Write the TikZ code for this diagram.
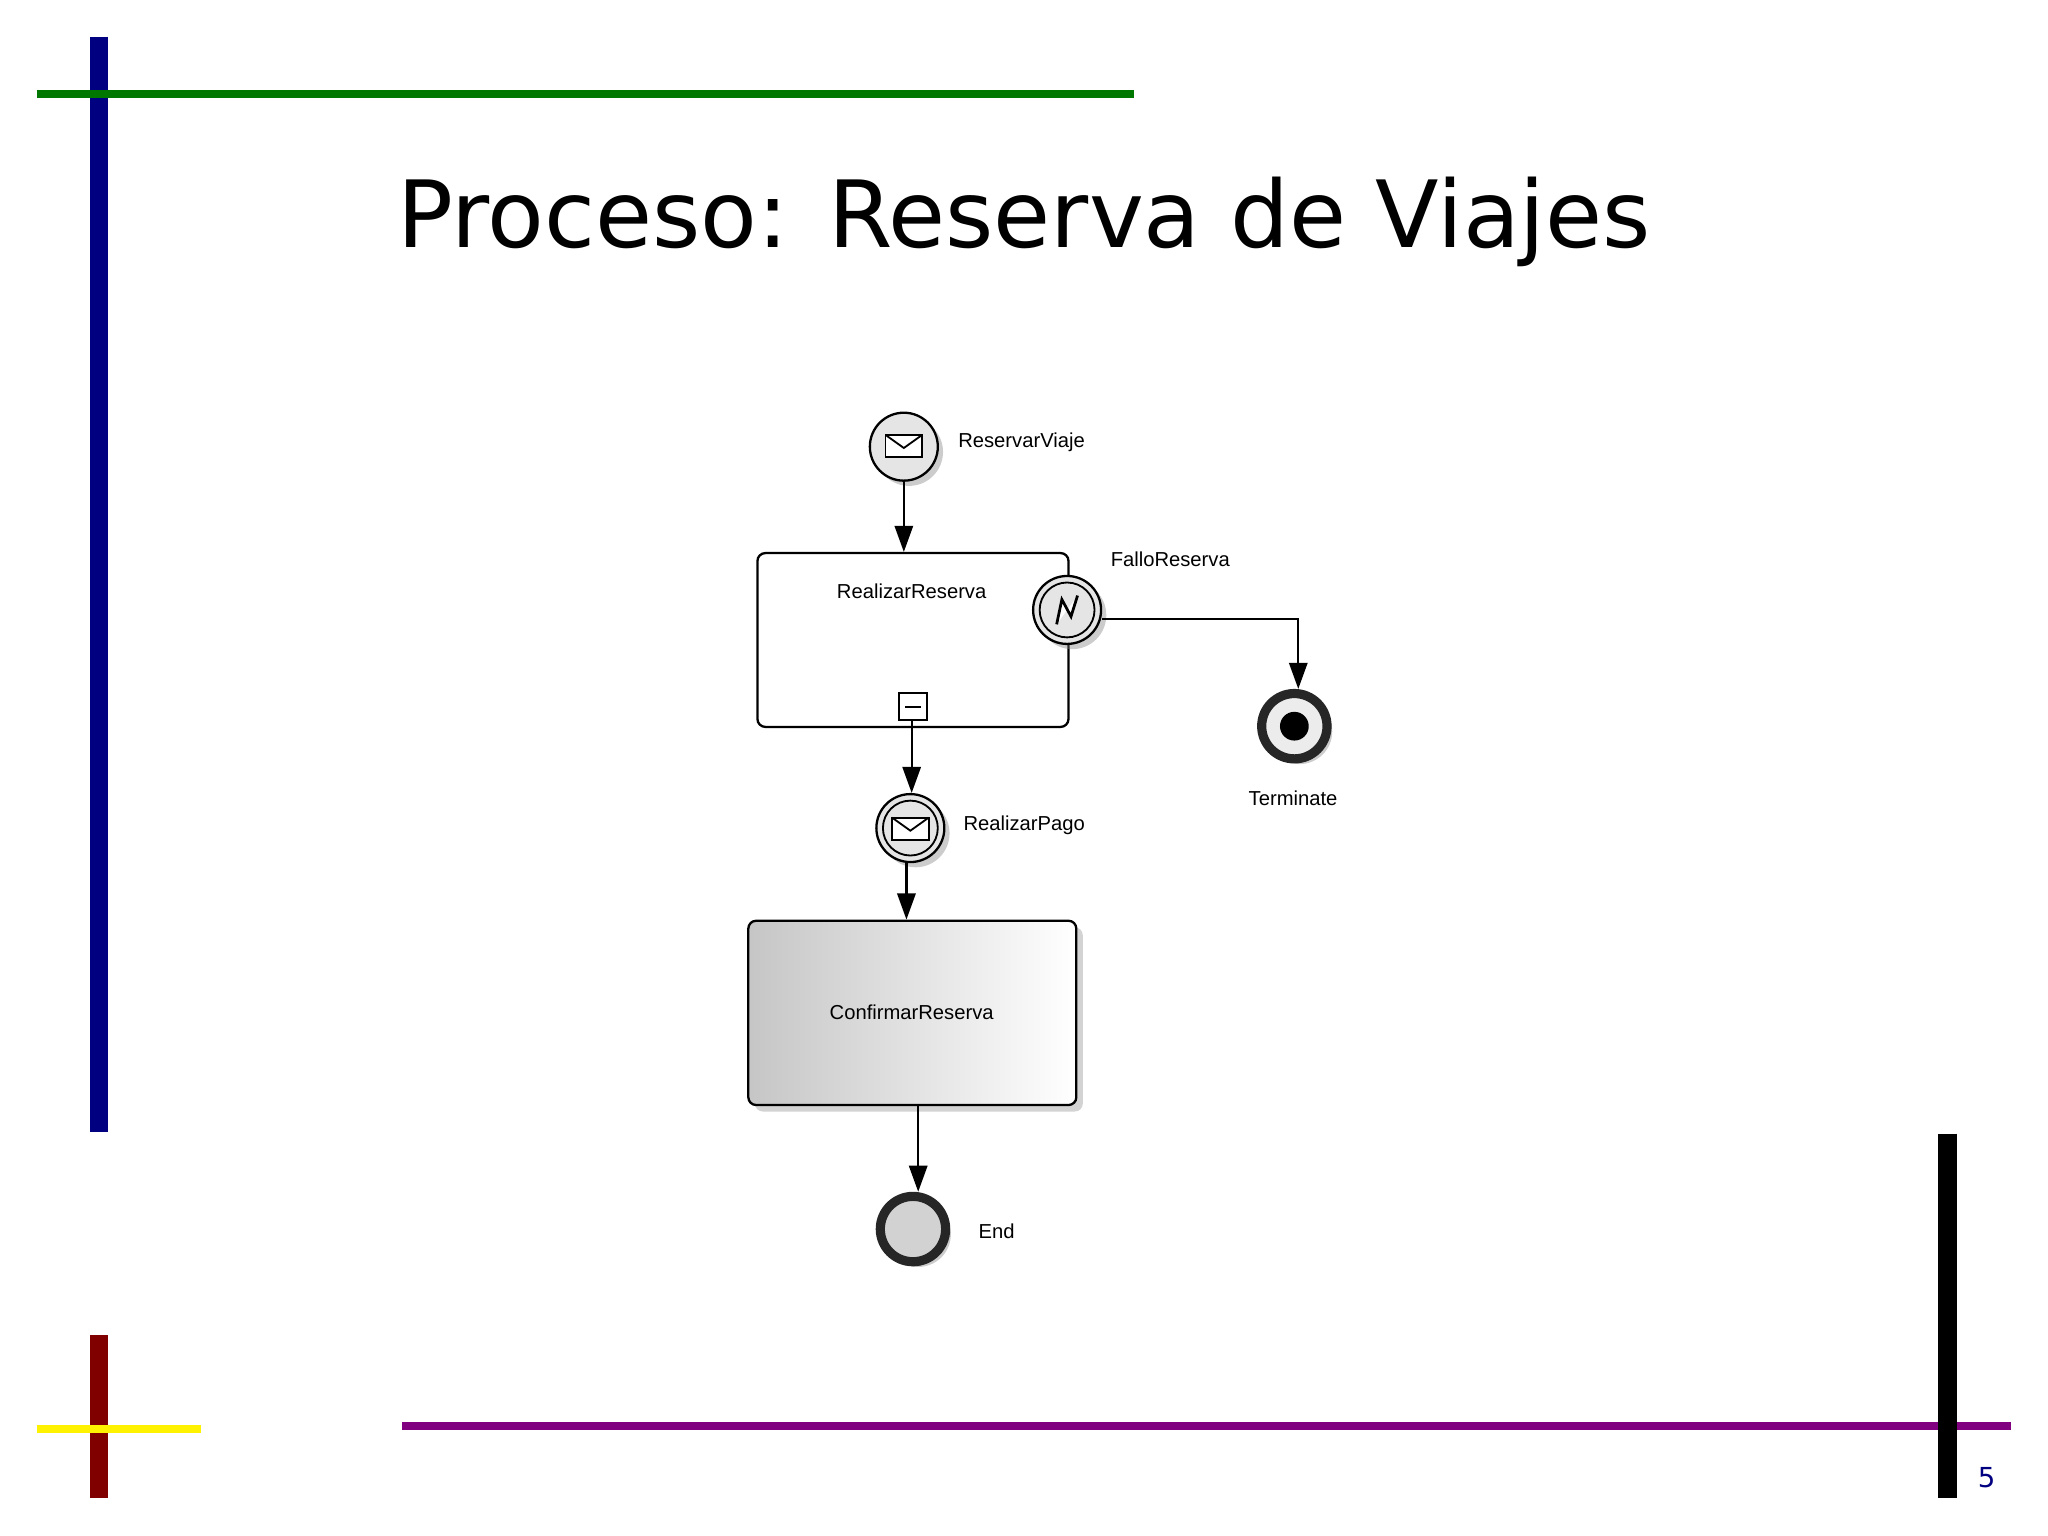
\documentclass[tikz,border=0pt]{standalone}
\usepackage{fontspec}
\setmainfont{DejaVu Sans}
\newfontfamily\lab{Liberation Sans}
\usetikzlibrary{shadows,arrows.meta}
\begin{document}
\begin{tikzpicture}[x=0.01cm,y=-0.01cm,
  ev/.style={circle,draw=black,line width=0.5pt,minimum size=0.52cm,inner sep=0pt,fill=gray!20,drop shadow={shadow xshift=0.04cm,shadow yshift=-0.04cm,opacity=0.4}},
  lbl/.style={font=\lab\fontsize{4.4}{5}\selectfont,inner sep=0pt},
  arr/.style={line width=0.5pt,-{Triangle[length=0.2cm,width=0.14cm]}},
  bar/.style={line width=#1}]
\useasboundingbox (0,0) rectangle (1568,1176);
% decorative bars
\draw[bar=0.14cm,color={rgb,255:red,0;green,0;blue,128}] (76,28) -- (76,867);
\draw[bar=0.06cm,color={rgb,255:red,0;green,120;blue,0}] (28,72) -- (868,72);
\draw[bar=0.14cm,color={rgb,255:red,128;green,0;blue,0}] (76,1022) -- (76,1147);
\draw[bar=0.06cm,color=yellow] (28,1094) -- (154,1094);
\draw[bar=0.06cm,color={rgb,255:red,128;green,0;blue,128}] (308,1092) -- (1540,1092);
\draw[bar=0.14cm,black] (1491,868) -- (1491,1147);
\node[font=\fontsize{6}{7}\selectfont,color={rgb,255:red,0;green,0;blue,128}] (pg) at (1521,1131) {5};
\node[font=\fontsize{20.2}{24}\selectfont] (title) at (784,170) {Proceso: Reserva de Viajes};
% start
\node[ev] (start) at (692,342) {};
\draw[line width=0.4pt,fill=white] (678,333) rectangle (706,350);
\draw[line width=0.4pt] (678,333) -- (692,343) -- (706,333);
\node[lbl,anchor=west] (l1) at (733,339) {ReservarViaje};
% subprocess
\node[draw,rounded corners=0.06cm,line width=0.5pt,fill=white,minimum width=2.38cm,minimum height=1.33cm] (sub) at (699,490) {};
\node[lbl] (l2) at (698,453) {RealizarReserva};
\node[draw,line width=0.4pt,minimum size=0.21cm,inner sep=0pt] (col) at (699,541) {};
\draw[line width=0.4pt] (693,541) -- (705,541);
% error boundary
\node[ev] (err) at (817,467) {};
\draw[line width=0.4pt] (817,467) circle (0.21cm);
\draw[line width=0.6pt,fill=white] (809,478) -- (813,459) -- (820,472) -- (825,456);
\node[lbl] (l3) at (896,428) {FalloReserva};
% terminate
\node[ev,line width=2pt,draw=black!85,fill=gray!15,minimum size=0.5cm] (term) at (991,556) {};
\fill (991,556) circle (0.11cm);
\node[lbl] (l4) at (990,611) {Terminate};
\draw[arr] (err.east) ++(0,7) coordinate (e1) -- (994,474) -- (term.north -| 994,0);
% intermediate
\node[ev] (pay) at (697,634) {};
\draw[line width=0.4pt] (697,634) circle (0.21cm);
\draw[line width=0.4pt,fill=white] (683,626) rectangle (711,643);
\draw[line width=0.4pt] (683,626) -- (697,636) -- (711,626);
\node[lbl,anchor=west] (l5) at (737,632) {RealizarPago};
% task
\shade[left color=gray!45,right color=white,rounded corners=0.06cm,drop shadow={shadow xshift=0.05cm,shadow yshift=-0.05cm,opacity=0.35}] (573,705) rectangle (824,846);
\node[draw,rounded corners=0.06cm,line width=0.5pt,minimum width=2.51cm,minimum height=1.41cm] (task) at (698.5,775.5) {};
\node[lbl] (l6) at (698,775) {ConfirmarReserva};
% end
\node[ev,line width=2pt,draw=black!85,fill=gray!35,minimum size=0.5cm] (end) at (699,941) {};
\node[lbl] (l7) at (763,943) {End};
% flows
\draw[arr] (start.south) -- (sub.north -| start.south);
\draw[arr] (col.south -| 698,0) -- (pay.north -| 698,0);
\draw[arr] (pay.south -| 694,0) -- (task.north -| 694,0);
\draw[arr] (task.south -| 703,0) -- (end.north -| 703,0);
\end{tikzpicture}
\end{document}
